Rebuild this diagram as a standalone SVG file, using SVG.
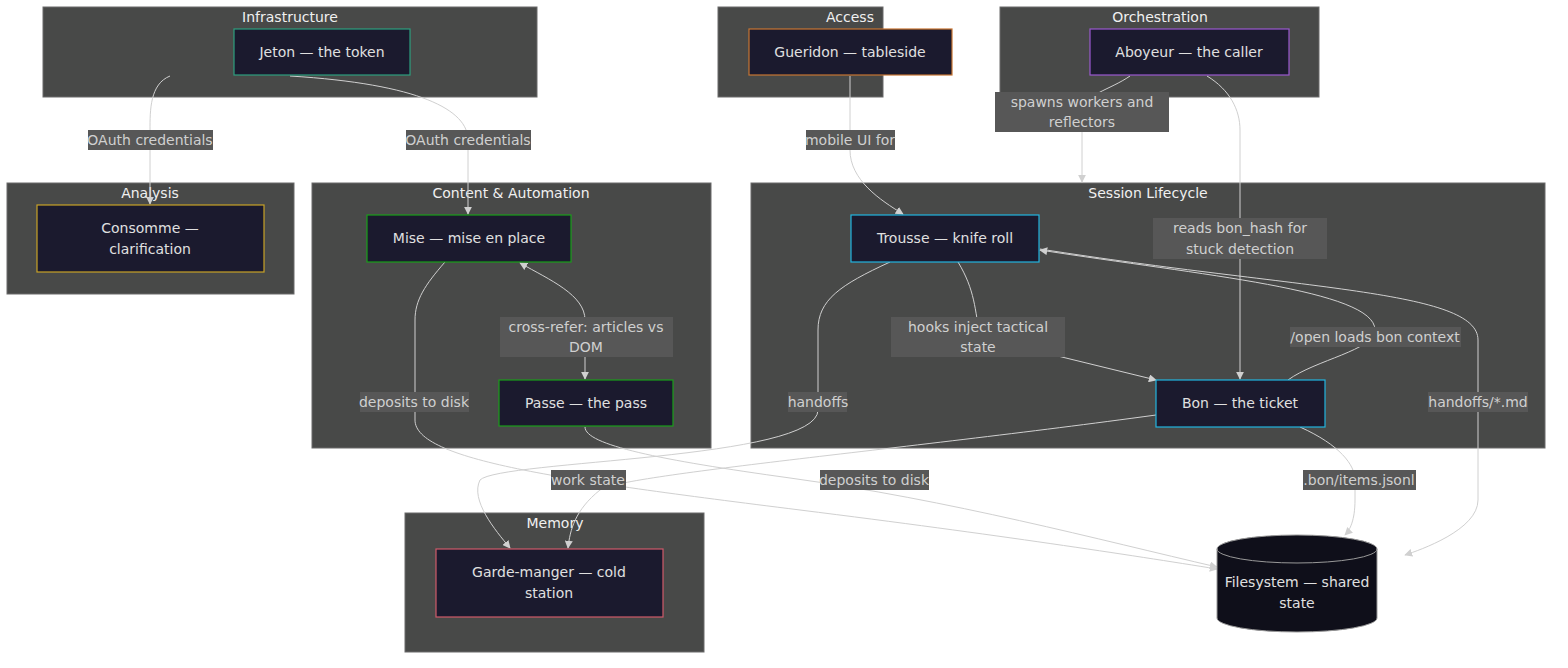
<svg xmlns="http://www.w3.org/2000/svg" width="1568" height="668" viewBox="0 0 1568 668">
<defs>
<marker id="ah" viewBox="0 0 10 10" refX="9" refY="5" markerWidth="8" markerHeight="8" orient="auto-start-reverse"><path d="M0,0L10,5L0,10z" fill="#d0d0d0"/></marker>
<style>
.cl{fill:#484948;stroke:#6a6a6a;stroke-width:1}
.ct{font-family:"DejaVu Sans",sans-serif;font-size:14px;fill:#f0f0f0;text-anchor:middle}
.nd{fill:#1b1a2e;stroke-width:1.2}
.nt{font-family:"DejaVu Sans",sans-serif;font-size:14px;fill:#e0e0e0;text-anchor:middle}
.e{fill:none;stroke:#d0d0d0;stroke-width:1}
.lb{fill:#575757}
.lt{font-family:"DejaVu Sans",sans-serif;font-size:14px;fill:#d0d0d0;text-anchor:middle}
</style>
</defs>
<g id="clusters">
<rect class="cl" x="43" y="7" width="494" height="90"/><text class="ct" x="290" y="22">Infrastructure</text>
<rect class="cl" x="718" y="7" width="165" height="90"/><text class="ct" x="850" y="22">Access</text>
<rect class="cl" x="1000" y="7" width="319" height="90"/><text class="ct" x="1160" y="22">Orchestration</text>
<rect class="cl" x="7" y="183" width="287" height="111"/><text class="ct" x="150" y="198">Analysis</text>
<rect class="cl" x="312" y="183" width="399" height="265"/><text class="ct" x="511" y="198">Content &amp; Automation</text>
<rect class="cl" x="751" y="183" width="794" height="265"/><text class="ct" x="1148" y="198">Session Lifecycle</text>
<rect class="cl" x="405" y="513" width="299" height="139"/><text class="ct" x="555" y="528">Memory</text>
</g>
<g id="connectors">
<path class="e" marker-end="url(#ah)" d="M170,76C150,84 150,110 150,130L150,204"/>
<path class="e" marker-end="url(#ah)" d="M290,76C420,84 468,110 468,140L468,214"/>
<path class="e" marker-end="url(#ah)" d="M850,76L850,150C850,180 880,200 903,214"/>
<path class="e" marker-end="url(#ah)" d="M1130,76C1110,90 1082,95 1082,112L1082,182"/>
<path class="e" marker-end="url(#ah)" d="M1207,76C1230,90 1240,110 1240,130L1240,379"/>
<path class="e" marker-start="url(#ah)" marker-end="url(#ah)" d="M520,263C550,280 585,295 585,320L585,379"/>
<path class="e" marker-end="url(#ah)" d="M445,262C425,285 415,300 415,320L415,420C415,460 560,480 800,510C1000,535 1130,555 1217,569"/>
<path class="e" marker-end="url(#ah)" d="M585,427C585,445 660,460 790,478C950,500 1100,540 1217,567"/>
<path class="e" marker-end="url(#ah)" d="M890,262C840,285 818,300 818,330L818,410C818,460 500,460 480,480C470,500 495,530 510,548"/>
<path class="e" marker-end="url(#ah)" d="M958,262C975,290 975,310 980,337L1156,380"/>
<path class="e" marker-end="url(#ah)" d="M1288,380C1315,360 1375,350 1375,330C1375,290 1200,275 1040,250"/>
<path class="e" marker-end="url(#ah)" d="M1040,249C1300,290 1478,290 1478,340L1478,500C1478,530 1420,550 1405,555"/>
<path class="e" marker-end="url(#ah)" d="M1156,415C900,450 620,475 600,490C575,510 570,530 568,548"/>
<path class="e" marker-end="url(#ah)" d="M1300,427C1340,445 1355,465 1355,480L1355,500C1355,520 1350,530 1345,535"/>
</g>
<g id="labels">
<rect class="lb" x="88" y="130" width="125" height="20"/><text class="lt" x="150" y="145">OAuth credentials</text>
<rect class="lb" x="406" y="130" width="125" height="20"/><text class="lt" x="468" y="145">OAuth credentials</text>
<rect class="lb" x="806" y="130" width="89" height="20"/><text class="lt" x="850" y="145">mobile UI for</text>
<rect class="lb" x="995" y="92" width="174" height="40"/><text class="lt" x="1082" y="107">spawns workers and</text><text class="lt" x="1082" y="127">reflectors</text>
<rect class="lb" x="1153" y="218" width="174" height="41"/><text class="lt" x="1240" y="233">reads bon_hash for</text><text class="lt" x="1240" y="254">stuck detection</text>
<rect class="lb" x="500" y="317" width="173" height="40"/><text class="lt" x="586" y="332">cross-refer: articles vs</text><text class="lt" x="586" y="352">DOM</text>
<rect class="lb" x="360" y="392" width="109" height="20"/><text class="lt" x="414" y="407">deposits to disk</text>
<rect class="lb" x="788" y="392" width="59" height="20"/><text class="lt" x="818" y="407">handoffs</text>
<rect class="lb" x="891" y="317" width="174" height="40"/><text class="lt" x="978" y="332">hooks inject tactical</text><text class="lt" x="978" y="352">state</text>
<rect class="lb" x="1290" y="327" width="171" height="20"/><text class="lt" x="1375" y="342">/open loads bon context</text>
<rect class="lb" x="1428" y="392" width="100" height="20"/><text class="lt" x="1478" y="407">handoffs/*.md</text>
<rect class="lb" x="551" y="470" width="75" height="20"/><text class="lt" x="588" y="485">work state</text>
<rect class="lb" x="820" y="470" width="109" height="20"/><text class="lt" x="874" y="485">deposits to disk</text>
<rect class="lb" x="1303" y="470" width="113" height="20"/><text class="lt" x="1359" y="485">.bon/items.jsonl</text>
</g>
<g id="jeton"><rect class="nd" stroke="#2e9f7f" x="234" y="29" width="176" height="46"/><text class="nt" x="322" y="57">Jeton — the token</text></g>
<g id="gueridon"><rect class="nd" stroke="#c87533" x="749" y="29" width="203" height="46"/><text class="nt" x="850" y="57">Gueridon — tableside</text></g>
<g id="aboyeur"><rect class="nd" stroke="#9b59d0" x="1090" y="29" width="199" height="46"/><text class="nt" x="1189" y="57">Aboyeur — the caller</text></g>
<g id="consomme"><rect class="nd" stroke="#c9a227" x="37" y="205" width="227" height="67"/><text class="nt" x="150" y="233">Consomme —</text><text class="nt" x="150" y="254">clarification</text></g>
<g id="mise"><rect class="nd" stroke="#1a9e1a" x="367" y="215" width="204" height="47"/><text class="nt" x="469" y="243">Mise — mise en place</text></g>
<g id="passe"><rect class="nd" stroke="#1a9e1a" x="499" y="380" width="174" height="46"/><text class="nt" x="586" y="408">Passe — the pass</text></g>
<g id="trousse"><rect class="nd" stroke="#22b5e0" x="851" y="215" width="188" height="47"/><text class="nt" x="945" y="243">Trousse — knife roll</text></g>
<g id="bon"><rect class="nd" stroke="#22b5e0" x="1156" y="380" width="169" height="47"/><text class="nt" x="1240" y="408">Bon — the ticket</text></g>
<g id="garde"><rect class="nd" stroke="#d05a6a" x="436" y="549" width="227" height="68"/><text class="nt" x="549" y="577">Garde-manger — cold</text><text class="nt" x="549" y="598">station</text></g>
<g id="filesystem">
<path d="M1217,549A80,14 0 0 1 1377,549L1377,618A80,14 0 0 1 1217,618Z" fill="#0f0f1a" stroke="#999"/>
<path d="M1217,549A80,14 0 0 0 1377,549" fill="none" stroke="#999"/>
<text class="nt" x="1297" y="587">Filesystem — shared</text><text class="nt" x="1297" y="608">state</text>
</g>
</svg>
